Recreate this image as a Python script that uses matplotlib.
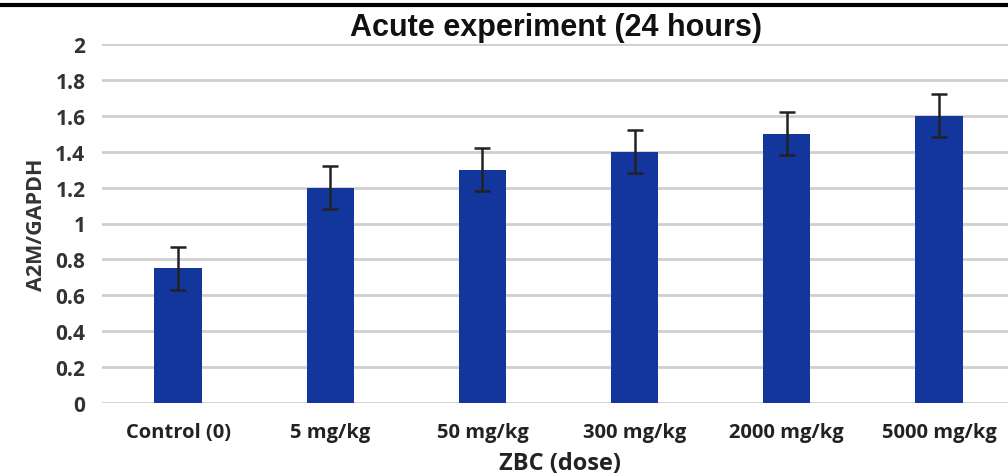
import matplotlib.pyplot as plt
import numpy as np

# data
doses = ['Control (0)', '5 mg/kg', '50 mg/kg', '300 mg/kg', '2000 mg/kg', '5000 mg/kg']
ratio = [0.75, 1.20, 1.30, 1.40, 1.50, 1.60]
err = [0.12, 0.12, 0.12, 0.12, 0.12, 0.12]
yticks = [0, 0.2, 0.4, 0.6, 0.8, 1, 1.2, 1.4, 1.6, 1.8, 2]
ytick_labels = ['0', '0.2', '0.4', '0.6', '0.8', '1', '1.2', '1.4', '1.6', '1.8', '2']

plt.rcParams['font.family'] = ['Open Sans', 'DejaVu Sans']

fig = plt.figure(figsize=(10.08, 4.77), dpi=100)
ax = fig.add_axes([102 / 1008, 1 - 404 / 477, (1015 - 102) / 1008, (404 - 45) / 477])

x = np.arange(len(doses))
ax.bar(x, ratio, width=0.31, color='#12369c', zorder=3)
ax.errorbar(x, ratio, yerr=err, fmt='none', ecolor='#222222', elinewidth=1.8,
            capsize=6, capthick=1.8, zorder=4)

ax.set_xlim(-0.5, len(doses) - 0.5)
ax.set_ylim(0, 2)
ax.set_yticks(yticks)
ax.set_yticklabels(ytick_labels, fontsize=15, fontweight='bold', color='#333333')
ax.set_xticks(x)
ax.set_xticklabels(doses, fontsize=14.5, fontweight='bold', color='#222222')
ax.tick_params(axis='both', length=0)
ax.tick_params(axis='x', pad=14)
ax.tick_params(axis='y', pad=12)

ax.grid(axis='y', color='#cfcfcf', linewidth=2, zorder=0)
for s in ax.spines.values():
    s.set_visible(False)

ax.set_ylabel('A2M/GAPDH', fontsize=15.5, fontweight='bold', color='#333333', labelpad=6)
fig.text(560 / 1008, 1 - 464 / 477, 'ZBC (dose)', ha='center', va='center',
         fontsize=17, fontweight='bold', color='#222222')
fig.text(556 / 1008, 1 - 28 / 477, 'Acute experiment (24 hours)', ha='center', va='center',
         fontsize=22, fontweight='bold', family='Liberation Sans', color='#111111')

# thick rule at the very top of the page crop
fig.add_artist(plt.Line2D([0, 1], [1 - 6 / 477, 1 - 6 / 477], color='black', linewidth=3))

fig.savefig('out.png', dpi=100)
